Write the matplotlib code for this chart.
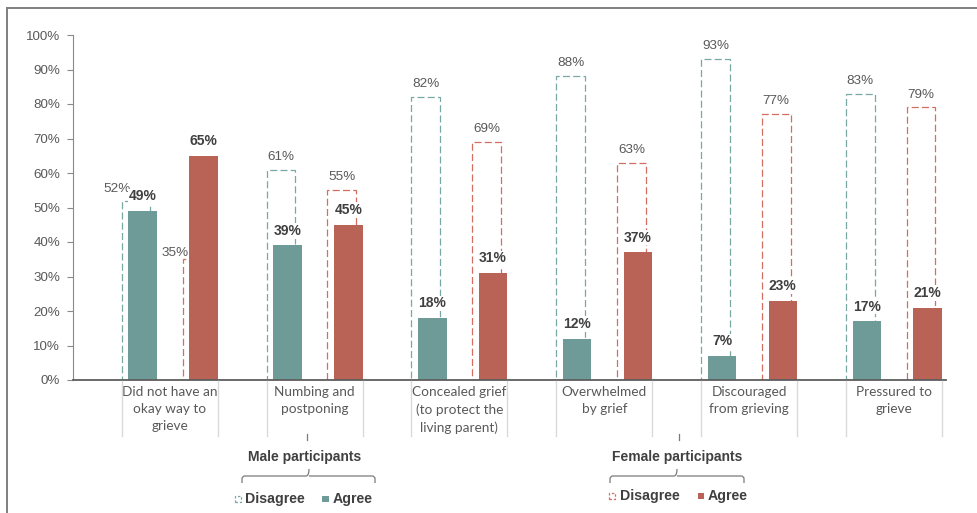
from matplotlib import pyplot as plt
from matplotlib.patches import Rectangle, PathPatch
from matplotlib.path import Path
from matplotlib.transforms import blended_transform_factory
import numpy as np

categories = [
    "Did not have an\nokay way to\ngrieve",
    "Numbing and\npostponing",
    "Concealed grief\n(to protect the\nliving parent)",
    "Overwhelmed\nby grief",
    "Discouraged\nfrom grieving",
    "Pressured to\ngrieve",
]
male_disagree = [52, 61, 82, 88, 93, 83]
male_agree = [49, 39, 18, 12, 7, 17]
female_disagree = [35, 55, 69, 63, 77, 79]
female_agree = [65, 45, 31, 37, 23, 21]
yticks = [0, 10, 20, 30, 40, 50, 60, 70, 80, 90, 100]

teal = "#6e9a97"
teal_edge = "#79a8a4"
red = "#b96357"
red_edge = "#d36e62"
grey_txt = "#595959"
dark_txt = "#404040"

W, H = 978, 513
fig = plt.figure(figsize=(W / 100, H / 100), dpi=100)
ax = fig.add_axes([73 / W, 1 - 380 / H, (946 - 73) / W, (380 - 35) / H])

def fx(px):
    return px / W

def fy(py):
    return 1 - py / H

x = np.arange(len(categories))
bw = 0.197
slot = 0.21
shift = 0.0225
dash = (0, (5.6, 2.6))

# dashed "disagree" outlines go behind the solid "agree" bars
ax.bar(x - slot - shift, male_disagree, bw, facecolor="none", edgecolor=teal_edge,
       linewidth=0.9, linestyle=dash, zorder=1)
ax.bar(x + slot - shift, female_disagree, bw, facecolor="none", edgecolor=red_edge,
       linewidth=0.9, linestyle=dash, zorder=1)
ax.bar(x - slot + shift, male_agree, bw, color=teal, zorder=2)
ax.bar(x + slot + shift, female_agree, bw, color=red, zorder=2)

# nudges (points) for the crowded first group
nudge_md = {0: (-14, -1)}
nudge_fd = {0: (-16, -5)}

for i in range(len(categories)):
    dx, dy = nudge_md.get(i, (0, 0))
    ax.annotate(f"{male_disagree[i]}%", (x[i] - slot - shift, male_disagree[i]),
                xytext=(dx, 5 + dy), textcoords="offset points", ha="center", va="bottom",
                fontsize=9.7, color=grey_txt, family="Liberation Sans", zorder=3)
    dx, dy = nudge_fd.get(i, (0, 0))
    ax.annotate(f"{female_disagree[i]}%", (x[i] + slot - shift, female_disagree[i]),
                xytext=(dx, 5 + dy), textcoords="offset points", ha="center", va="bottom",
                fontsize=9.7, color=grey_txt, family="Liberation Sans", zorder=3)
    ax.annotate(f"{male_agree[i]}%", (x[i] - slot + shift, male_agree[i]),
                xytext=(0, 5.5), textcoords="offset points", ha="center", va="bottom",
                fontsize=10, fontweight="bold", color=dark_txt, family="Liberation Sans",
                bbox=dict(facecolor="white", edgecolor="none", pad=0.5), zorder=3)
    ax.annotate(f"{female_agree[i]}%", (x[i] + slot + shift, female_agree[i]),
                xytext=(0, 5.5), textcoords="offset points", ha="center", va="bottom",
                fontsize=10, fontweight="bold", color=dark_txt, family="Liberation Sans",
                bbox=dict(facecolor="white", edgecolor="none", pad=0.5), zorder=3)

ax.set_xlim(-0.6675, 5.359)
ax.set_ylim(0, 100)
ax.set_yticks(yticks)
ax.set_yticklabels([f"{t}%" for t in yticks], family="Liberation Sans", fontsize=9.6,
                   color=grey_txt)
ax.tick_params(axis="y", length=4.3, width=0.8, color="#8a8a8a", pad=5)
ax.set_xticks([])
for s in ["top", "right"]:
    ax.spines[s].set_visible(False)
ax.spines["left"].set_color("#8a8a8a")
ax.spines["left"].set_linewidth(0.8)
ax.spines["bottom"].set_color("#5e5e5e")
ax.spines["bottom"].set_linewidth(1.3)
ax.spines["bottom"].set_zorder(4)

# category labels and the light separators on either side of each group
trans = blended_transform_factory(ax.transData, fig.transFigure)
left_edge = x - slot - shift - bw / 2
right_edge = x + slot + shift + bw / 2
for i, lab in enumerate(categories):
    ax.text(x[i], fy(386), lab, transform=trans, ha="center", va="top",
            fontsize=9.8, family="Lato", color=grey_txt, linespacing=1.5)
    for xe in (left_edge[i], right_edge[i]):
        fig.add_artist(plt.Line2D([xe, xe], [fy(381), fy(436)], transform=trans,
                                  color="#dadada", linewidth=1.0))

def brace(x0, x1, xm, y_top, y_bot, y_tip):
    r = 3
    verts = [(x0, y_bot), (x0, y_top + r), (x0, y_top), (x0 + r, y_top),
             (xm - r, y_top), (xm, y_top), (xm, y_tip),
             (xm, y_top), (xm + r, y_top),
             (x1 - r, y_top), (x1, y_top), (x1, y_top + r), (x1, y_bot)]
    codes = [Path.MOVETO, Path.LINETO, Path.CURVE3, Path.CURVE3,
             Path.LINETO, Path.CURVE3, Path.CURVE3,
             Path.MOVETO, Path.CURVE3,
             Path.LINETO, Path.CURVE3, Path.CURVE3, Path.LINETO]
    verts = [(fx(a), fy(b)) for a, b in verts]
    fig.add_artist(PathPatch(Path(verts, codes), facecolor="none", edgecolor="#7a7a7a",
                             linewidth=0.9, transform=fig.transFigure))

groups = [
    ("Male participants", 305, 242, 375, 309, 499, teal_edge, teal, 238, 245, 325, 333),
    ("Female participants", 677, 610, 744, 677, 496, red_edge, red, 612, 620, 701, 708),
]
for name, cx, b0, b1, bm, ly, edge, fill, m1, t1, m2, t2 in groups:
    fig.add_artist(plt.Line2D([fx(cx + 2), fx(cx + 2)], [fy(434), fy(440)],
                              color="#7a7a7a", linewidth=0.9))
    fig.text(fx(cx), fy(457), name, ha="center", va="center", fontsize=10,
             fontweight="bold", color=dark_txt, family="Liberation Sans")
    brace(b0, b1, bm, 476, 483, 469)
    fig.add_artist(Rectangle((fx(m1 - 3), fy(ly + 3)), 6 / W, 6 / H, facecolor="none",
                             edgecolor=edge, linewidth=0.9, linestyle=(0, (2, 1.5)),
                             transform=fig.transFigure))
    fig.text(fx(t1), fy(ly), "Disagree", ha="left", va="center", fontsize=10.2,
             fontweight="bold", color=dark_txt, family="Liberation Sans")
    fig.add_artist(Rectangle((fx(m2 - 3), fy(ly + 3)), 6.5 / W, 6.5 / H, facecolor=fill,
                             edgecolor="none", transform=fig.transFigure))
    fig.text(fx(t2), fy(ly), "Agree", ha="left", va="center", fontsize=10.2,
             fontweight="bold", color=dark_txt, family="Liberation Sans")

# chart frame
fig.add_artist(plt.Line2D([fx(7), fx(W)], [fy(8), fy(8)], color="#7f7f7f", linewidth=1.4))
fig.add_artist(plt.Line2D([fx(7), fx(7)], [fy(8), fy(H)], color="#7f7f7f", linewidth=1.4))

fig.savefig("out.png", dpi=100)
